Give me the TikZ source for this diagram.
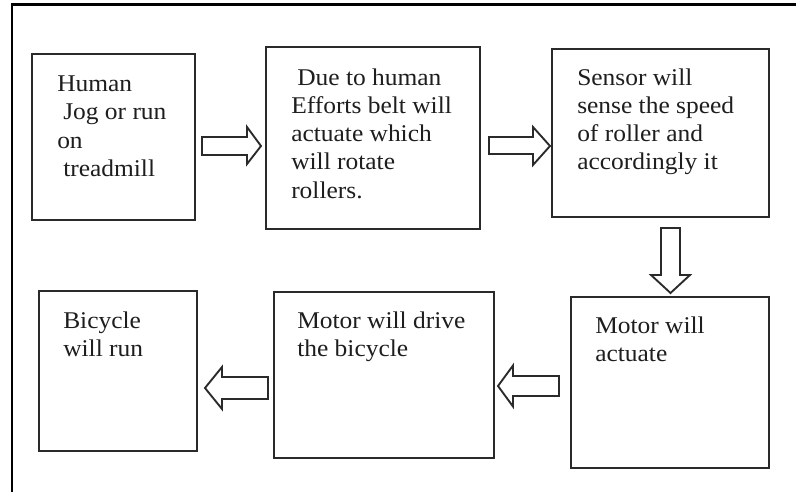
\documentclass[tikz,border=0pt]{standalone}
\usepackage{fontspec}
\setmainfont{Liberation Serif}[FakeStretch=1.06]
\usetikzlibrary{fit}
\definecolor{ink}{HTML}{1E1E1E}
\definecolor{rule}{HTML}{2A2A2A}
\tikzset{
  stepbox/.style={draw=rule, line width=1.5pt, inner sep=0pt},
  steptext/.style={anchor=base west, inner sep=0pt, text=ink,
    font=\fontsize{18}{21.2}\selectfont},
  blockarrow/.style={draw=rule, fill=white, line width=1.4pt, line join=miter},
  frameline/.style={draw=black, line width=2pt}
}
\newcommand{\steplines}[1]{\parbox[t]{200pt}{\raggedright #1}}
\newcommand{\lead}{\hspace*{4.5pt}}
\begin{document}
\begin{tikzpicture}[x=0.75pt, y=-0.75pt]
  \useasboundingbox (0,0) rectangle (796,492);
  \fill[white] (0,0) rectangle (796,492);

  % outer frame: top and left edges only
  \draw[frameline] (12,492) -- (12,4.5) -- (796,4.5);

  % process boxes
  \node[stepbox, fit={(32,54) (195,220)}]  (b1) {};
  \node[stepbox, fit={(266,47) (480,229)}] (b2) {};
  \node[stepbox, fit={(552,49) (769,217)}] (b3) {};
  \node[stepbox, fit={(571,297) (769,468)}] (b4) {};
  \node[stepbox, fit={(274,292) (494,458)}] (b5) {};
  \node[stepbox, fit={(39,291) (197,451)}]  (b6) {};

  % box texts
  \node[steptext] (t1) at (57,91.5)
    {\steplines{Human\\\lead Jog or run\\on\\\lead treadmill}};
  \node[steptext] (t2) at (291,85)
    {\steplines{\lead Due to human\\Efforts belt will\\actuate which\\will rotate\\rollers.}};
  \node[steptext] (t3) at (577,85)
    {\steplines{Sensor will\\sense the speed\\of roller and\\accordingly it}};
  \node[steptext] (t4) at (595,333)
    {\steplines{Motor will\\actuate}};
  \node[steptext] (t5) at (297,328)
    {\steplines{Motor will drive\\the bicycle}};
  \node[steptext] (t6) at (63,328)
    {\steplines{Bicycle\\will run}};

  % block arrows between the steps
  % b1 -> b2
  \draw[blockarrow] (202,137) -- (247,137) -- (247,127) -- (261,146)
    -- (247,164) -- (247,155) -- (202,155) -- cycle;
  % b2 -> b3
  \draw[blockarrow] (489,137) -- (533,137) -- (533,127) -- (550,146)
    -- (533,165) -- (533,154) -- (489,154) -- cycle;
  % b3 -> b4
  \draw[blockarrow] (661,228) -- (661,275) -- (651,275) -- (670.5,293)
    -- (690,275) -- (680,275) -- (680,228) -- cycle;
  % b4 -> b5
  \draw[blockarrow] (559,376) -- (513,376) -- (513,365.5) -- (498,386)
    -- (513,406.5) -- (513,396) -- (559,396) -- cycle;
  % b5 -> b6
  \draw[blockarrow] (268,377) -- (222,377) -- (222,367) -- (205,388)
    -- (222,409) -- (222,399) -- (268,399) -- cycle;
\end{tikzpicture}
\end{document}
